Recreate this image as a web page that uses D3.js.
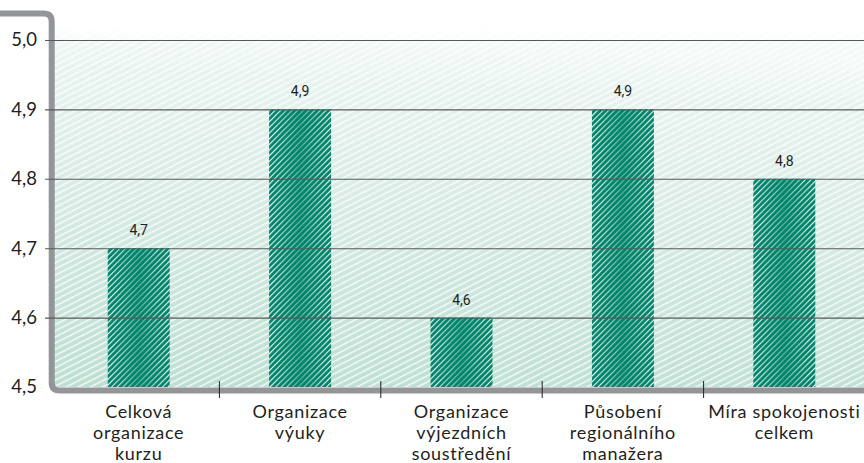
<!DOCTYPE html>
<html>
<head>
<meta charset="utf-8">
<script src="https://cdn.jsdelivr.net/npm/d3@7"></script>
<style>
  html, body { margin: 0; padding: 0; background: #ffffff; }
  svg { display: block; }
</style>
</head>
<body>
<svg id="chart" width="864" height="463"></svg>
<script>
// ---- data ----
const categories = [
  "Celková\norganizace\nkurzu",
  "Organizace\nvýuky",
  "Organizace\nvýjezdních\nsoustředění",
  "Působení\nregionálního\nmanažera",
  "Míra spokojenosti\ncelkem"
];
const values = [4.7, 4.9, 4.6, 4.9, 4.8];
const valueLabels = ["4,7", "4,9", "4,6", "4,9", "4,8"];
const yTicks = [4.5, 4.6, 4.7, 4.8, 4.9, 5.0];
const yTickLabels = ["4,5", "4,6", "4,7", "4,8", "4,9", "5,0"];

// ---- setup ----
const W = 864, H = 463;
const svg = d3.select("#chart");
const defs = svg.append("defs");

const x = d3.scaleBand()
  .domain(categories)
  .range([58, 865])
  .paddingInner(0.616)
  .paddingOuter(0.308);

const y = d3.scaleLinear().domain([4.5, 5.0]).range([387, 40]);

const frameColor = "#939598";
const green = "#00856a";

// background gradient
const bgGrad = defs.append("linearGradient").attr("id", "bgGrad")
  .attr("x1", 0.1).attr("y1", 0).attr("x2", 0).attr("y2", 1);
bgGrad.append("stop").attr("offset", "0%").attr("stop-color", "#f4faf8");
bgGrad.append("stop").attr("offset", "12%").attr("stop-color", "#e8f3ef");
bgGrad.append("stop").attr("offset", "55%").attr("stop-color", "#d3e9e1");
bgGrad.append("stop").attr("offset", "100%").attr("stop-color", "#bcdfd2");

// white sketch strokes over background
const bgPat = defs.append("pattern").attr("id", "bgPat")
  .attr("patternUnits", "userSpaceOnUse")
  .attr("width", 7).attr("height", 5.5)
  .attr("patternTransform", "rotate(-27)");
bgPat.append("rect").attr("width", 7).attr("height", 1.5).attr("y", 0).attr("fill", "#ffffff").attr("opacity", 0.8);

// bar hatch pattern
const barPat = defs.append("pattern").attr("id", "barPat")
  .attr("patternUnits", "userSpaceOnUse")
  .attr("width", 4).attr("height", 4)
  .attr("patternTransform", "rotate(45)");
barPat.append("rect").attr("width", 4).attr("height", 4).attr("fill", green);
barPat.append("rect").attr("width", 1.1).attr("height", 4).attr("fill", "#ffffff");

// dark shading over bars
const barShade = defs.append("linearGradient").attr("id", "barShade")
  .attr("x1", 0).attr("y1", 0).attr("x2", 1).attr("y2", 0);
barShade.append("stop").attr("offset", "0%").attr("stop-color", green).attr("stop-opacity", 0);
barShade.append("stop").attr("offset", "50%").attr("stop-color", green).attr("stop-opacity", 0.6);
barShade.append("stop").attr("offset", "100%").attr("stop-color", green).attr("stop-opacity", 0);

// ---- background ----
const bgX0 = 54, bgX1 = W, bgY0 = y(5.0) - 14, bgY1 = y(4.5);
svg.append("rect").attr("x", bgX0).attr("y", bgY0)
  .attr("width", bgX1 - bgX0).attr("height", bgY1 - bgY0)
  .attr("fill", "url(#bgGrad)");
svg.append("rect").attr("x", bgX0).attr("y", bgY0)
  .attr("width", bgX1 - bgX0).attr("height", bgY1 - bgY0)
  .attr("fill", "url(#bgPat)");
const topFade = defs.append("linearGradient").attr("id", "topFade")
  .attr("x1", 0).attr("y1", 0).attr("x2", 0).attr("y2", 1);
topFade.append("stop").attr("offset", "0%").attr("stop-color", "#fff").attr("stop-opacity", 1);
topFade.append("stop").attr("offset", "100%").attr("stop-color", "#fff").attr("stop-opacity", 0.5);
svg.append("rect").attr("x", bgX0).attr("y", bgY0)
  .attr("width", bgX1 - bgX0).attr("height", y(5.0) - bgY0)
  .attr("fill", "url(#topFade)");

// ---- bars ----
const bars = svg.append("g");
bars.selectAll("rect.bar").data(categories).join("rect")
  .attr("class", "bar")
  .attr("x", d => x(d)).attr("width", x.bandwidth())
  .attr("y", (d, i) => y(values[i]))
  .attr("height", (d, i) => y(4.5) - y(values[i]))
  .attr("fill", "url(#barPat)");
bars.selectAll("rect.shade").data(categories).join("rect")
  .attr("class", "shade")
  .attr("x", d => x(d)).attr("width", x.bandwidth())
  .attr("y", (d, i) => y(values[i]))
  .attr("height", (d, i) => y(4.5) - y(values[i]))
  .attr("fill", "url(#barShade)");

// ---- frame ----
const fx = 51.7, fyTop = 13.5, fyBot = 390.5, r = 8;
svg.append("path")
  .attr("d", `M0,${fyTop} H${fx - r} Q${fx},${fyTop} ${fx},${fyTop + r} V${fyBot - r} Q${fx},${fyBot} ${fx + r},${fyBot} H${W}`)
  .attr("fill", "none").attr("stroke", frameColor).attr("stroke-width", 6);

// ---- y axis / gridlines ----
const yAxis = d3.axisLeft(y)
  .tickValues(yTicks)
  .tickFormat((d, i) => yTickLabels[i])
  .tickSize(-(W - 45))
  .tickPadding(8);
const gy = svg.append("g").attr("transform", "translate(45,0)").call(yAxis);
gy.select(".domain").remove();
gy.selectAll(".tick line")
  .attr("stroke", "#58595b").attr("stroke-width", 1.1)
  .attr("display", d => d === 4.5 ? "none" : null);
gy.selectAll(".tick text")
  .attr("fill", "#231f20")
  .style("font-family", "Lato, 'Open Sans', sans-serif")
  .style("font-size", "18.5px");

// ---- x ticks between bands ----
const step = x.step();
const boundaries = categories.slice(1).map(d => x(d) - (step - x.bandwidth()) / 2);
svg.append("g").selectAll("line").data(boundaries).join("line")
  .attr("x1", d => d).attr("x2", d => d)
  .attr("y1", 381).attr("y2", 398)
  .attr("stroke", "#231f20").attr("stroke-width", 1);

// ---- value labels ----
svg.append("g").selectAll("text").data(categories).join("text")
  .attr("x", d => x(d) + x.bandwidth() / 2)
  .attr("y", (d, i) => y(values[i]) - 13)
  .attr("text-anchor", "middle")
  .attr("fill", "#231f20")
  .style("font-family", "Roboto, Lato, sans-serif")
  .style("font-size", "14px")
  .text((d, i) => valueLabels[i]);

// ---- category labels ----
const cl = svg.append("g").selectAll("text").data(categories).join("text")
  .attr("x", d => x(d) + x.bandwidth() / 2)
  .attr("y", 418)
  .attr("text-anchor", "middle")
  .attr("fill", "#231f20")
  .style("font-family", "Lato, 'Open Sans', sans-serif")
  .style("font-size", "18px")
  .style("letter-spacing", "0.7px");
cl.selectAll("tspan").data(d => d.split("\n")).join("tspan")
  .attr("x", function() { return d3.select(this.parentNode).attr("x"); })
  .attr("dy", (d, i) => i === 0 ? 0 : 21)
  .text(d => d);
</script>
</body>
</html>
